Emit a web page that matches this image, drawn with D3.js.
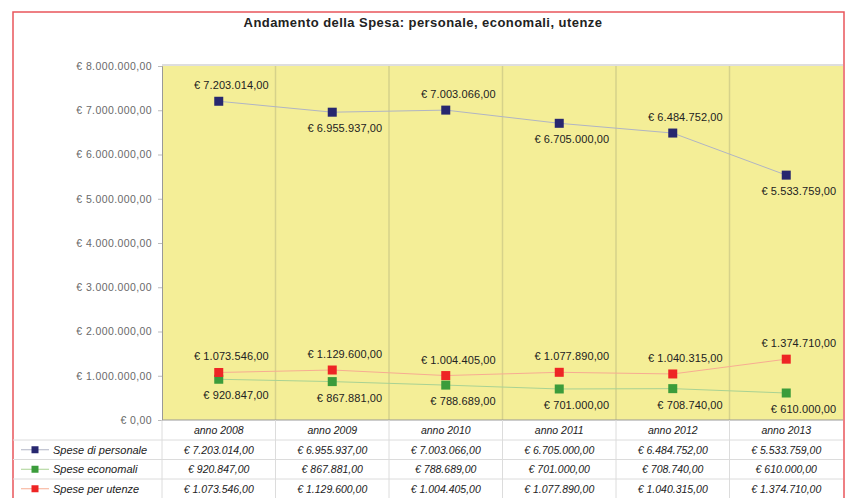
<!DOCTYPE html>
<html>
<head>
<meta charset="utf-8">
<script src="https://cdn.jsdelivr.net/npm/d3@7"></script>
<style>
  body { margin: 0; background: #fff; }
  svg { display: block; font-family: "Liberation Sans", Arial, sans-serif; }
</style>
</head>
<body>
<svg id="chart" width="851" height="498"></svg>
<script>
// Chart data
const years = ['anno 2008', 'anno 2009', 'anno 2010', 'anno 2011', 'anno 2012', 'anno 2013'];
const personale = [7203014, 6955937, 7003066, 6705000, 6484752, 5533759];
const economali = [920847, 867881, 788689, 701000, 708740, 610000];
const utenze = [1073546, 1129600, 1004405, 1077890, 1040315, 1374710];
const seriesNames = ['Spese di personale', 'Spese economali', 'Spese per utenze'];
const yTicks = [0, 1000000, 2000000, 3000000, 4000000, 5000000, 6000000, 7000000, 8000000];

// Italian currency format
const it = d3.formatLocale({ decimal: ',', thousands: '.', grouping: [3], currency: ['€ ', ''] });
const euro = it.format('$,.2f');

const svg = d3.select('#chart');
const plot = { left: 162, right: 843, top: 66, bottom: 420 };

const x = d3.scaleBand().domain(years).range([plot.left, plot.right]);
const y = d3.scaleLinear().domain([0, 8000000]).range([plot.bottom, plot.top]);

const series = [
  { name: seriesNames[0], values: personale, color: '#27276f', line: '#b0b4c4' },
  { name: seriesNames[1], values: economali, color: '#3b9c3b', line: '#a9d293' },
  { name: seriesNames[2], values: utenze, color: '#ee2525', line: '#f7ac92' }
];

// Outer red frame
svg.append('rect')
  .attr('x', 13).attr('y', 12)
  .attr('width', 831).attr('height', 500)
  .attr('fill', '#fff')
  .attr('stroke', '#e9555b')
  .attr('stroke-width', 1.5);

// Title
svg.append('text')
  .attr('x', 423).attr('y', 27)
  .attr('text-anchor', 'middle')
  .style('font-size', '13px')
  .style('font-weight', 'bold')
  .style('letter-spacing', '0.45px')
  .attr('fill', '#222')
  .text('Andamento della Spesa: personale, economali, utenze');

// Plot background
svg.append('rect')
  .attr('x', plot.left).attr('y', plot.top)
  .attr('width', plot.right - plot.left).attr('height', plot.bottom - plot.top)
  .attr('fill', '#f4ee97');

// Top shadow line
svg.append('line')
  .attr('x1', plot.left).attr('x2', plot.right)
  .attr('y1', plot.top - 1).attr('y2', plot.top - 1)
  .attr('stroke', '#dedede').attr('stroke-width', 2);

// Vertical category separators
svg.append('g')
  .selectAll('line')
  .data(years.slice(1))
  .enter()
  .append('line')
  .attr('x1', d => x(d)).attr('x2', d => x(d))
  .attr('y1', plot.top).attr('y2', plot.bottom)
  .attr('stroke', '#d6d28a').attr('stroke-width', 1.5);

// Y axis
const yAxis = svg.append('g')
  .attr('transform', `translate(${plot.left},0)`)
  .call(d3.axisLeft(y).tickValues(yTicks).tickFormat(euro).tickSize(4).tickPadding(6));
yAxis.select('.domain').attr('stroke', '#999');
yAxis.selectAll('.tick line').attr('stroke', '#bbb');
yAxis.selectAll('.tick text')
  .attr('fill', '#6a6a6a')
  .style('font-size', '10.5px')
  .style('font-family', '"Liberation Sans", Arial, sans-serif')
  .style('letter-spacing', '0.4px');

// Bottom border of plot
svg.append('line')
  .attr('x1', plot.left).attr('x2', plot.right)
  .attr('y1', plot.bottom).attr('y2', plot.bottom)
  .attr('stroke', '#999').attr('stroke-width', 1);

const cx = d => x(d) + x.bandwidth() / 2;
const line = d3.line().x((v, i) => cx(years[i])).y(v => y(v));

// Lines and markers
series.forEach((s, si) => {
  svg.append('path')
    .datum(s.values)
    .attr('d', line)
    .attr('fill', 'none')
    .attr('stroke', s.line)
    .attr('stroke-width', 1);

  svg.append('g')
    .selectAll('rect')
    .data(s.values)
    .enter()
    .append('rect')
    .attr('x', (v, i) => cx(years[i]) - 4.5)
    .attr('y', v => y(v) - 4.5)
    .attr('width', 9).attr('height', 9)
    .attr('fill', s.color);

  // Data labels: personale alternates, utenze above, economali below
  svg.append('g')
    .selectAll('text')
    .data(s.values)
    .enter()
    .append('text')
    .attr('x', (v, i) => cx(years[i]) + 50)
    .attr('y', (v, i) => {
      let above;
      if (si === 0) above = i % 2 === 0;
      else above = si === 2;
      return y(v) + (above ? -12 : 20);
    })
    .attr('text-anchor', 'end')
    .style('font-size', '11px')
    .style('letter-spacing', '0.1px')
    .attr('fill', '#222')
    .text(v => euro(v));
});

// Data table
const rowTop = plot.bottom;
const rowH = [20, 19.5, 19.5, 19.5];
const rowY = [rowTop];
rowH.forEach((h, i) => rowY.push(rowY[i] + h));

const table = svg.append('g');

// Horizontal rules
table.selectAll('line.h')
  .data(rowY.slice(1))
  .enter()
  .append('line')
  .attr('x1', 13)
  .attr('x2', plot.right)
  .attr('y1', d => d).attr('y2', d => d)
  .attr('stroke', '#dcdcdc');

// Vertical rules
table.selectAll('line.v')
  .data(years)
  .enter()
  .append('line')
  .attr('x1', d => x(d)).attr('x2', d => x(d))
  .attr('y1', plot.bottom).attr('y2', 498)
  .attr('stroke', '#dcdcdc');

// Year header
table.selectAll('text.year')
  .data(years)
  .enter()
  .append('text')
  .attr('x', d => cx(d))
  .attr('y', rowY[0] + 14)
  .attr('text-anchor', 'middle')
  .style('font-size', '10.5px')
  .style('font-style', 'italic')
  .attr('fill', '#222')
  .text(d => d);

// Series rows
series.forEach((s, si) => {
  const yMid = rowY[si + 1] + rowH[si + 1] / 2;

  table.append('line')
    .attr('x1', 21).attr('x2', 49)
    .attr('y1', yMid).attr('y2', yMid)
    .attr('stroke', s.line).attr('stroke-width', 1);
  table.append('rect')
    .attr('x', 31.5).attr('y', yMid - 3.5)
    .attr('width', 7).attr('height', 7)
    .attr('fill', s.color);
  table.append('text')
    .attr('x', 53).attr('y', yMid + 4)
    .style('font-size', '11px')
    .style('font-style', 'italic')
    .attr('fill', '#222')
    .text(s.name);

  table.append('g')
    .selectAll('text')
    .data(s.values)
    .enter()
    .append('text')
    .attr('x', (v, i) => cx(years[i]))
    .attr('y', yMid + 4)
    .attr('text-anchor', 'middle')
    .style('font-size', '10.5px')
    .style('font-style', 'italic')
    .attr('fill', '#222')
    .text(v => euro(v));
});
</script>
</body>
</html>
